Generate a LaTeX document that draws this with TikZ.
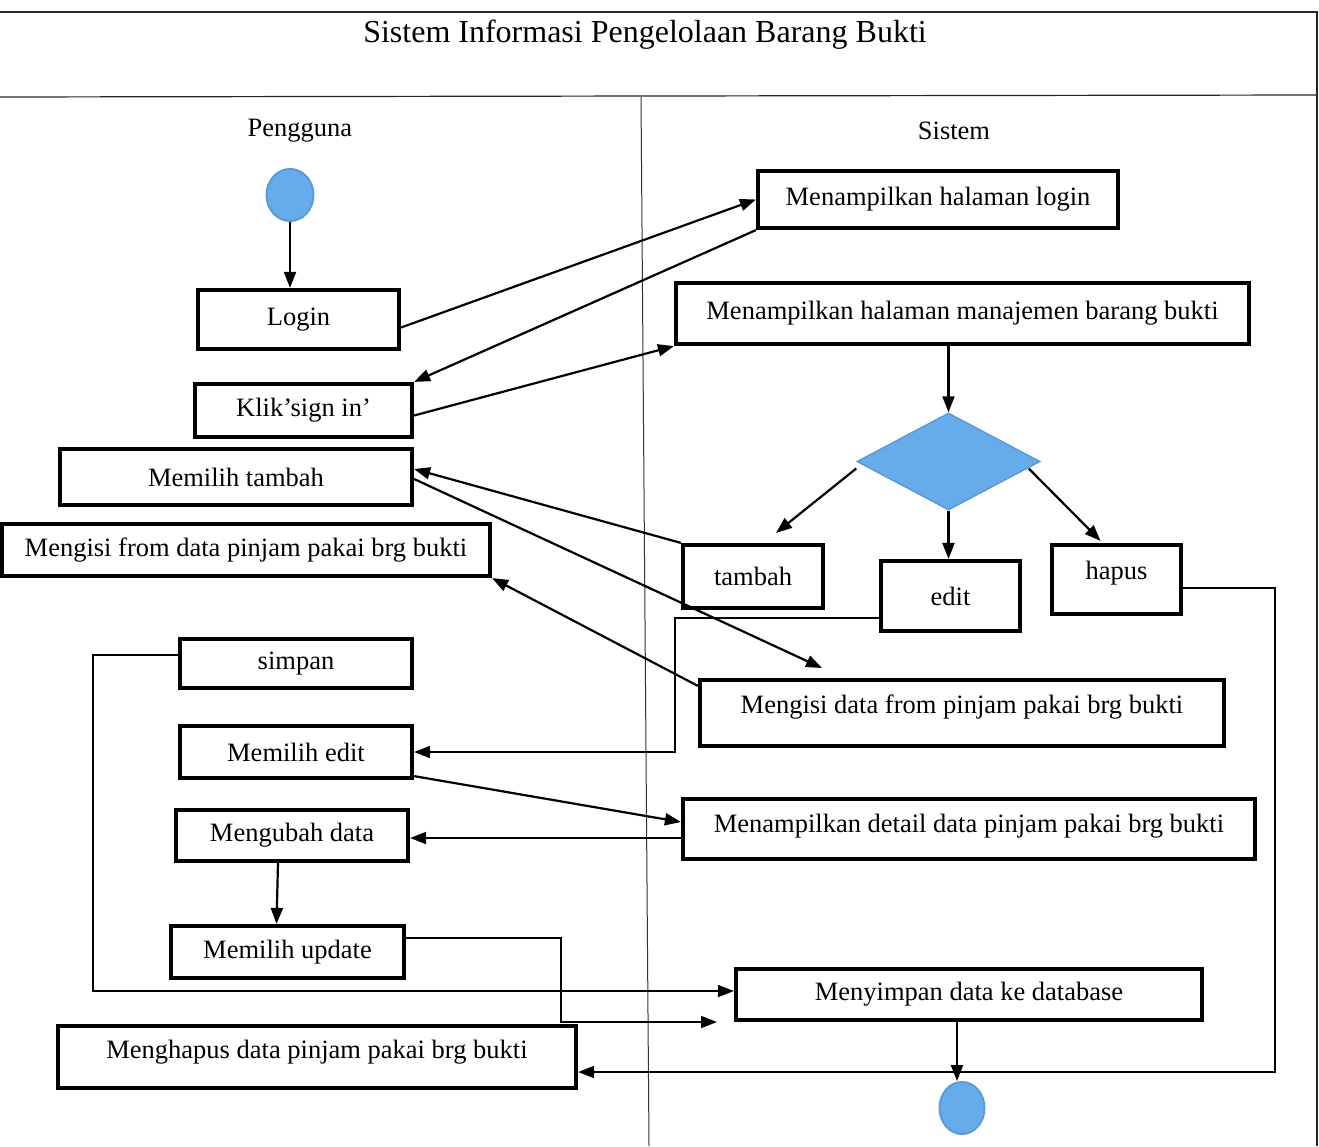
\documentclass[tikz,border=0pt]{standalone}
\usepackage{fontspec}
\setmainfont{Liberation Serif}
\usetikzlibrary{shapes.geometric,arrows.meta,calc}
\definecolor{nodeblue}{HTML}{66ACEB}
\definecolor{nodeedge}{HTML}{5A9AD8}
\newcommand{\nodefont}{\fontsize{26.5}{30}\selectfont}
\tikzset{
  box/.style={draw, line width=4.2pt, inner sep=0pt, font=\nodefont, align=center},
  dot/.style={ellipse, fill=nodeblue, draw=nodeedge, line width=2pt, inner sep=0pt},
  conn/.style={line width=2.2pt, -{Triangle[length=16pt,width=12pt]}},
  ortho/.style={line width=1.7pt, -{Triangle[length=16pt,width=12pt]}},
  frameline/.style={line width=1.2pt, draw=black!85},
  lanelabel/.style={font=\fontsize{26.5}{30}\selectfont, inner sep=0pt}
}
\begin{document}
\begin{tikzpicture}[x=1pt,y=-1pt]
\useasboundingbox (0,0) rectangle (1319,1146);
% frame
\draw[frameline] (0,12) -- (1317,12) -- (1317,1146);
\draw[frameline] (0,97) -- (1317,95);
\draw[line width=1pt, draw=black!80] (641,97) -- (649,1146);
\node[font=\fontsize{32}{36}\selectfont, inner sep=0pt] (title) at (645,35) {Sistem Informasi Pengelolaan Barang Bukti};
\node[lanelabel] (lane1) at (300,131) {Pengguna};
\node[lanelabel] (lane2) at (954,131) {Sistem};
% left lane
\node[dot, minimum width=47pt, minimum height=52pt] (startc) at (290,195) {};
\node[box, minimum width=201pt, minimum height=59pt] (login) at (298.5,319.5) {Login};
\node[box, minimum width=217pt, minimum height=53pt] (klik) at (303.5,410.5) {Klik’sign in’};
\node[box, minimum width=352pt, minimum height=56pt] (mtambah) at (236,477) {Memilih tambah};
\node[box, minimum width=488pt, minimum height=52pt] (mform) at (246,550) {Mengisi from data pinjam pakai brg bukti};
\node[box, minimum width=232pt, minimum height=49pt] (simpan) at (296,663.5) {simpan};
\node[box, minimum width=232pt, minimum height=52pt] (medit) at (296,752) {Memilih edit};
\node[box, minimum width=232pt, minimum height=51pt] (mubah) at (292,835.5) {Mengubah data};
\node[box, minimum width=233pt, minimum height=52pt] (mupdate) at (287.5,952) {Memilih update};
\node[box, minimum width=518pt, minimum height=62pt, text depth=16pt] (mhapus) at (317,1057) {Menghapus data pinjam pakai brg bukti};
% right lane
\node[box, minimum width=360pt, minimum height=57pt] (mhl) at (938,199.5) {Menampilkan halaman login};
\node[box, minimum width=573pt, minimum height=61pt] (mhm) at (962.5,313.5) {Menampilkan halaman manajemen barang bukti};
\node[diamond, fill=nodeblue, draw=nodeedge, line width=1.5pt, inner sep=0pt, minimum width=183pt, minimum height=97pt] (dia) at (948.5,461.5) {};
\node[box, minimum width=140pt, minimum height=63pt] (tambah) at (753,576.5) {tambah};
\node[box, minimum width=139pt, minimum height=70pt] (edit) at (950.5,596) {edit};
\node[box, minimum width=129pt, minimum height=69pt, text depth=18pt] (hapus) at (1116.5,579.5) {hapus};
\node[box, minimum width=524pt, minimum height=66pt, text depth=17pt] (mdata) at (962,713) {Mengisi data from pinjam pakai brg bukti};
\node[box, minimum width=572pt, minimum height=60pt, text depth=11pt] (mdetail) at (969,829) {Menampilkan detail data pinjam pakai brg bukti};
\node[box, minimum width=466pt, minimum height=51pt] (menyimpan) at (969,994.5) {Menyimpan data ke database};
\node[dot, minimum width=45pt, minimum height=52pt] (endc) at (962,1108) {};
\coordinate (dataarrow) at (822,668);
\coordinate (dbarrow) at (717,1022);
% connectors
\draw[conn] (startc.south) -- (startc.south |- login.north);
\draw[conn] ([yshift=-8pt]login.east) -- (mhl.west);
\draw[conn] (mhl.south west) -- (klik.north east);
\draw[conn] ([yshift=-5pt]klik.east) -- (mhm.south west);
\draw[conn] (mhm.south -| dia.north) -- (dia.north);
\draw[conn] ([yshift=-7pt]dia.west) -- ([xshift=23pt,yshift=10pt]tambah.north);
\draw[conn] (dia.south) -- (dia.south |- edit.north);
\draw[conn] ([xshift=-12pt,yshift=-7pt]dia.east) -- ([xshift=-16pt,yshift=2pt]hapus.north);
\draw[conn] (tambah.north west) -- ([yshift=8pt]mtambah.east);
\draw[conn] ([yshift=-2pt]mtambah.east) -- (dataarrow);
\draw[conn] ([yshift=-8pt]mdata.north west) -- (mform.south east);
\draw[ortho] ([yshift=-22pt]edit.west) -- ++(-204,0) |- (medit.east);
\draw[conn] ([yshift=4pt]medit.south east) -- ([yshift=7pt]mdetail.west);
\draw[ortho] ([yshift=-9pt]mdetail.west) -- ([yshift=-9pt]mdetail.west -| mubah.east);
\draw[conn] ([xshift=-14pt]mubah.south) -- ([xshift=-11pt]mupdate.north);
\draw[ortho] ([yshift=8.5pt]simpan.west) -- ++(-85,0) |- ([yshift=3.5pt]menyimpan.west);
\draw[ortho] ([yshift=14pt]mupdate.east) -- ++(155,0) |- (dbarrow);
\draw[ortho] ([yshift=-8.5pt]hapus.east) -- ++(92,0) |- ([yshift=-15pt]mhapus.east);
\draw[conn] ([xshift=-12pt]menyimpan.south) -- ([xshift=-5pt]endc.north);
\end{tikzpicture}
\end{document}
